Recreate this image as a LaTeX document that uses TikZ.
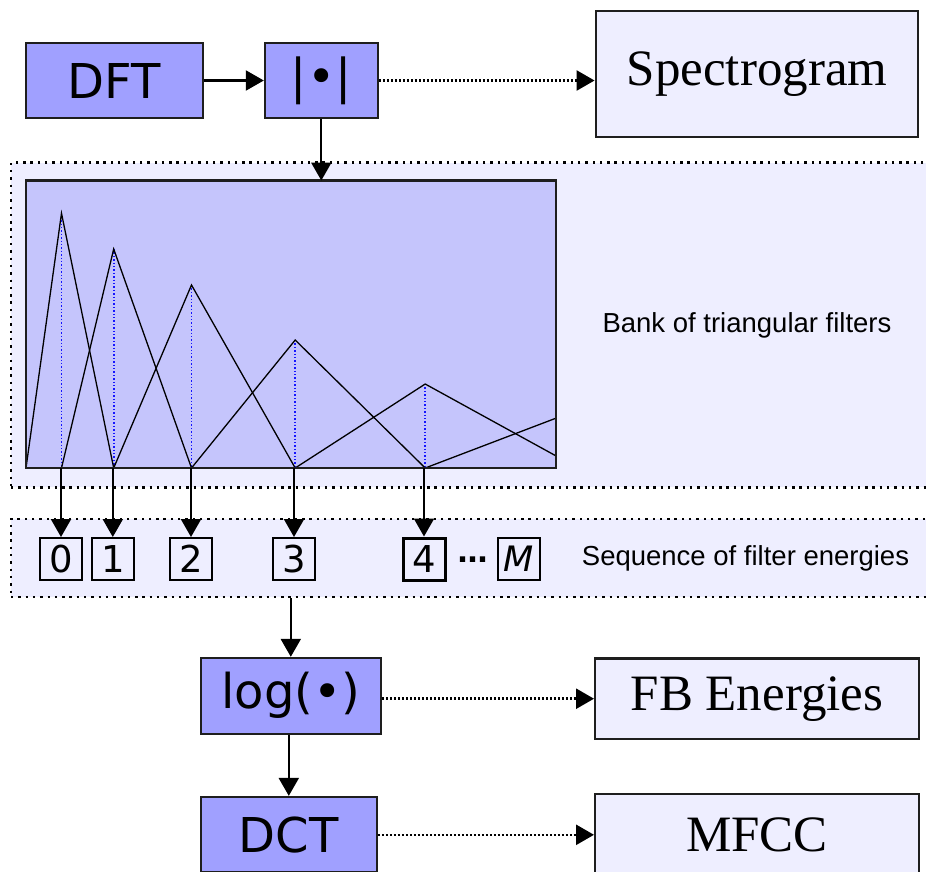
\documentclass[tikz,border=0pt]{standalone}
\usepackage{fontspec}
\setmainfont{Liberation Serif}
\newfontfamily\dvs{DejaVu Sans}
\newfontfamily\las{Liberation Sans}
\usetikzlibrary{arrows.meta}
\definecolor{procc}{RGB}{160,160,255}
\definecolor{bankc}{RGB}{197,197,252}
\definecolor{lightc}{RGB}{238,238,255}
\definecolor{bordc}{RGB}{30,30,30}
\definecolor{bluec}{RGB}{20,20,255}
\tikzset{
  proc/.style={draw=bordc, fill=procc, line width=2.3pt, inner sep=0pt, font=\dvs\fontsize{48}{50}\selectfont},
  outb/.style={draw=bordc, fill=lightc, line width=2.3pt, inner sep=0pt, font=\fontsize{51}{53}\selectfont},
  numb/.style={draw=black, line width=2pt, minimum width=42pt, minimum height=42pt, inner sep=0pt, font=\dvs\fontsize{37}{40}\selectfont},
  region/.style={fill=lightc, draw=black, line width=2.6pt, dash pattern=on 2.4pt off 4.9pt},
  arr/.style={line width=2.2pt, -{Triangle[length=18pt,width=20pt]}},
  darr/.style={arr, dash pattern=on 2.2pt off 1.8pt, line width=2.6pt},
  tri/.style={line width=1.3pt, black},
  bdot/.style={line width=1.6pt, bluec, dash pattern=on 1.4pt off 2pt},
  lbl/.style={anchor=base, font=\las\fontsize{27.5}{30}\selectfont}
}
\begin{document}
\begin{tikzpicture}[x=1pt,y=-1pt]
\useasboundingbox (0,0) rectangle (926,871);
% regions
\node[region, minimum width=929pt, minimum height=324.6pt] (r1) at (475.5,325) {};
\node[region, minimum width=929pt, minimum height=78pt] (r2) at (475.5,558) {};
% top row
\node[proc, minimum width=176.7pt, minimum height=75.6pt, text height=35.6pt, text depth=0pt] (dft) at (114.3,80.5) {DFT};
\node[proc, minimum width=112.7pt, minimum height=75.6pt, text height=36.5pt, text depth=10.1pt] (abs) at (321.3,80.5) {|•|};
\node[outb, minimum width=322.6pt, minimum height=125.7pt, text height=35pt, text depth=12.6pt] (spec) at (757,73.8) {Spectrogram};
% filter bank
\node[fill=bankc, minimum width=529.5pt, minimum height=287.3pt, inner sep=0pt] (bank) at (290.75,324.35) {};
\begin{scope}
\clip (bank.south west) rectangle (bank.north east);
\draw[bdot] (61.5,213.3) -- (61.5,468);
\draw[bdot] (113.7,249) -- (113.7,468);
\draw[bdot] (191.5,285) -- (191.5,468);
\draw[bdot] (295.2,340) -- (295.2,468);
\draw[bdot] (425.2,384) -- (425.2,468);
\draw[tri] (26,468) -- (61.5,213.3) -- (113.7,468);
\draw[tri] (61.5,468) -- (113.7,249) -- (191.5,468);
\draw[tri] (113.7,468) -- (191.5,285) -- (295.2,468);
\draw[tri] (191.5,468) -- (295.2,340) -- (425.2,468);
\draw[tri] (295.2,468) -- (425.2,384) -- (578,468);
\draw[tri] (425.2,468) -- (600,401.4);
\end{scope}
\draw[bordc, line width=2.3pt] (bank.south west) rectangle (bank.north east);
\node[lbl] (tbank) at (747,332) {Bank of triangular filters};
% energies
\node[numb] (e0) at (61,559) {0};
\node[numb] (e1) at (112.8,559) {1};
\node[numb] (e2) at (191,559) {2};
\node[numb] (e3) at (294,559) {3};
\node[numb, line width=3pt] (e4) at (424,559) {4};
\node[font=\dvs\bfseries\fontsize{30}{32}\selectfont, inner sep=0pt] (dots) at (472.5,560) {…};
\node[numb, font=\dvs\itshape\fontsize{35}{37}\selectfont] (eM) at (518.9,559) {M};
\node[lbl] (tseq) at (745.5,565) {Sequence of filter energies};
% lower row
\node[proc, minimum width=179.7pt, minimum height=75.7pt, text height=36.5pt, text depth=11.5pt] (log) at (290.8,695.8) {log(•)};
\node[proc, minimum width=175.7pt, minimum height=75.6pt, text height=35pt, text depth=0pt] (dct) at (288.8,834.8) {DCT};
\node[outb, minimum width=323.7pt, minimum height=80.7pt, text height=35pt, text depth=12.4pt] (fb) at (757,698.7) {FB Energies};
\node[outb, minimum width=323.7pt, minimum height=81pt, text height=34.4pt, text depth=0pt] (mfcc) at (757,834.5) {MFCC};
% connectors
\draw[arr] (dft.east) -- (abs.west);
\draw[darr] (abs.east) -- (abs.east -| spec.west);
\draw[arr] (abs.south) -- (abs.south |- bank.north);
\foreach \e in {e0,e1,e2,e3,e4}{
  \draw[arr] (\e.north |- bank.south) -- (\e.north);
}
\draw[arr] (log.north |- r2.south) -- (log.north);
\draw[darr] (log.east |- fb.west) -- (fb.west);
\draw[arr] (log.south -| dct.north) -- (dct.north);
\draw[darr] (dct.east) -- (dct.east -| mfcc.west);
\end{tikzpicture}
\end{document}
